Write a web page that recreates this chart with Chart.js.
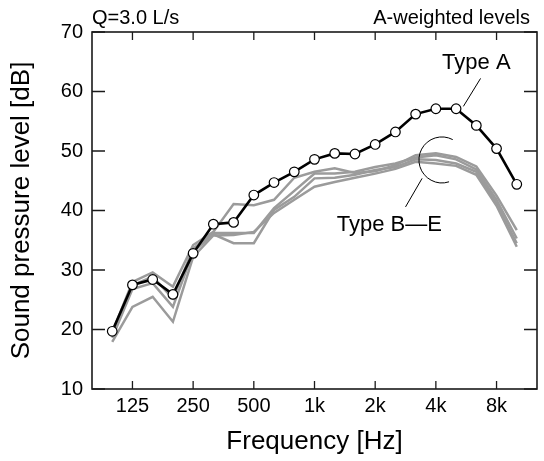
<!DOCTYPE html>
<html>
<head>
<meta charset="utf-8">
<script src="https://cdn.jsdelivr.net/npm/chart.js@4.4.1/dist/chart.umd.min.js"></script>
<style>
  html, body { margin: 0; padding: 0; background: #fff; }
  #wrap { width: 544px; height: 461px; }
</style>
</head>
<body>
<div id="wrap"><canvas id="spl" width="544" height="461"></canvas></div>
<script>
// 1/3 octave bands
const bands = ['100', '125', '160', '200', '250', '315', '400', '500', '630', '800',
  '1k', '1.25k', '1.6k', '2k', '2.5k', '3.15k', '4k', '5k', '6.3k', '8k', '10k'];
const tickBands = ['125', '250', '500', '1k', '2k', '4k', '8k'];
const yTicks = [10, 20, 30, 40, 50, 60, 70];

// A-weighted levels [dB]
const typeA = [19.7, 27.5, 28.4, 25.9, 32.8, 37.7, 38.0, 42.6, 44.7, 46.5, 48.6,
  49.6, 49.5, 51.1, 53.2, 56.2, 57.1, 57.1, 54.3, 50.4, 44.4];
const typeB = [19.5, 28.0, 29.6, 27.2, 34.2, 36.4, 41.1, 40.9, 41.8, 45.5, 46.5,
  47.1, 46.3, 46.6, 47.6, 49.3, 49.6, 49.0, 47.4, 42.5, 36.7];
const typeC = [19.2, 27.4, 28.9, 25.2, 33.6, 36.2, 36.2, 36.2, 40.4, 43.3, 46.2,
  46.2, 46.5, 47.3, 47.9, 48.9, 49.3, 48.6, 46.9, 41.8, 35.3];
const typeD = [18.6, 26.8, 27.8, 23.8, 33.1, 36.0, 34.5, 34.5, 40.1, 42.3, 45.4,
  45.5, 46.0, 46.8, 47.3, 48.6, 48.5, 47.9, 46.5, 41.2, 34.5];
const typeE = [17.9, 23.8, 25.5, 21.3, 32.2, 35.8, 35.9, 36.4, 39.6, 41.8, 44.0,
  44.8, 45.5, 46.2, 47.0, 48.2, 47.9, 47.5, 46.0, 40.8, 33.9];

const FONT = "'Liberation Sans', Arial, Helvetica, sans-serif";

function toPoints(arr) {
  return arr.map((v, i) => ({ x: i, y: v }));
}

function greyLine(label, arr) {
  return {
    label: label,
    data: toPoints(arr),
    borderColor: '#9b9b9b',
    borderWidth: 2.5,
    pointRadius: 0,
    tension: 0
  };
}

// frame, inward ticks, header texts and annotations
const decorations = {
  id: 'decorations',
  afterDraw(chart) {
    const ctx = chart.ctx;
    const a = chart.chartArea;
    const xs = chart.scales.x, ys = chart.scales.y;
    ctx.save();
    ctx.strokeStyle = '#1a1a1a';
    ctx.lineWidth = 1.6;
    ctx.strokeRect(a.left, a.top, a.right - a.left, a.bottom - a.top);

    ctx.lineWidth = 1.3;
    ctx.beginPath();
    yTicks.forEach(v => {
      const y = ys.getPixelForValue(v);
      ctx.moveTo(a.left, y); ctx.lineTo(a.left + 13, y);
      ctx.moveTo(a.right, y); ctx.lineTo(a.right - 13, y);
    });
    tickBands.forEach(b => {
      const x = xs.getPixelForValue(bands.indexOf(b));
      ctx.moveTo(x, a.bottom); ctx.lineTo(x, a.bottom - 8);
      ctx.moveTo(x, a.top); ctx.lineTo(x, a.top + 8);
    });
    ctx.stroke();

    // header
    ctx.fillStyle = '#000';
    ctx.font = '20px ' + FONT;
    ctx.textBaseline = 'alphabetic';
    ctx.textAlign = 'left';
    ctx.fillText('Q=3.0 L/s', a.left, 24);
    ctx.textAlign = 'right';
    ctx.fillText('A-weighted levels', a.right - 7, 24);

    // annotations
    const px = (i, v) => [xs.getPixelForValue(i), ys.getPixelForValue(v)];
    ctx.font = '22px ' + FONT;
    ctx.textAlign = 'center';
    ctx.textBaseline = 'middle';
    let p = px(18.0, 64.8);
    ctx.fillText('Type A', p[0], p[1]);
    p = px(13.7, 37.6);
    ctx.fillText('Type B\u2014E', p[0], p[1]);

    ctx.lineWidth = 1;
    ctx.strokeStyle = '#000';
    ctx.beginPath();
    let s = px(18.21, 62.2), e = px(17.36, 57.5);
    ctx.moveTo(s[0], s[1]); ctx.lineTo(e[0], e[1]);
    s = px(14.5, 40.6); e = px(15.32, 45.4);
    ctx.moveTo(s[0], s[1]); ctx.lineTo(e[0], e[1]);
    ctx.stroke();

    const c = px(16.3, 48.5);
    ctx.beginPath();
    ctx.arc(c[0], c[1], 23, -62 * Math.PI / 180, 72 * Math.PI / 180, true);
    ctx.stroke();
    ctx.restore();
  }
};

new Chart(document.getElementById('spl'), {
  type: 'line',
  data: {
    datasets: [
      {
        label: 'Type A',
        data: toPoints(typeA),
        borderColor: '#000',
        borderWidth: 2.6,
        pointRadius: 4.8,
        pointBackgroundColor: '#fff',
        pointBorderColor: '#000',
        pointBorderWidth: 1.2,
        tension: 0
      },
      greyLine('Type B', typeB),
      greyLine('Type C', typeC),
      greyLine('Type D', typeD),
      greyLine('Type E', typeE)
    ]
  },
  options: {
    responsive: false,
    animation: false,
    events: [],
    layout: { padding: { left: 0, right: 7, top: 32, bottom: 0 } },
    plugins: {
      legend: { display: false },
      tooltip: { enabled: false }
    },
    scales: {
      x: {
        type: 'linear',
        min: -1,
        max: 21,
        grid: { display: false, drawTicks: false },
        border: { display: false },
        afterBuildTicks: (scale) => {
          scale.ticks = tickBands.map(b => ({ value: bands.indexOf(b) }));
        },
        afterFit: (scale) => { scale.height = 72; },
        ticks: {
          autoSkip: false,
          maxRotation: 0,
          padding: 5,
          color: '#000',
          font: { family: FONT, size: 20 },
          callback: (v) => bands[v]
        },
        title: {
          display: true,
          text: 'Frequency [Hz]',
          color: '#000',
          font: { family: FONT, size: 26 },
          padding: { top: 0, bottom: 4 }
        }
      },
      y: {
        min: 10,
        max: 70,
        grid: { display: false, drawTicks: false },
        border: { display: false },
        afterFit: (scale) => { scale.width = 92; },
        ticks: {
          stepSize: 10,
          padding: 9,
          color: '#000',
          font: { family: FONT, size: 20 }
        },
        title: {
          display: true,
          text: 'Sound pressure level [dB]',
          color: '#000',
          font: { family: FONT, size: 26 },
          padding: { top: 6, bottom: 0 }
        }
      }
    }
  },
  plugins: [decorations]
});
</script>
</body>
</html>
